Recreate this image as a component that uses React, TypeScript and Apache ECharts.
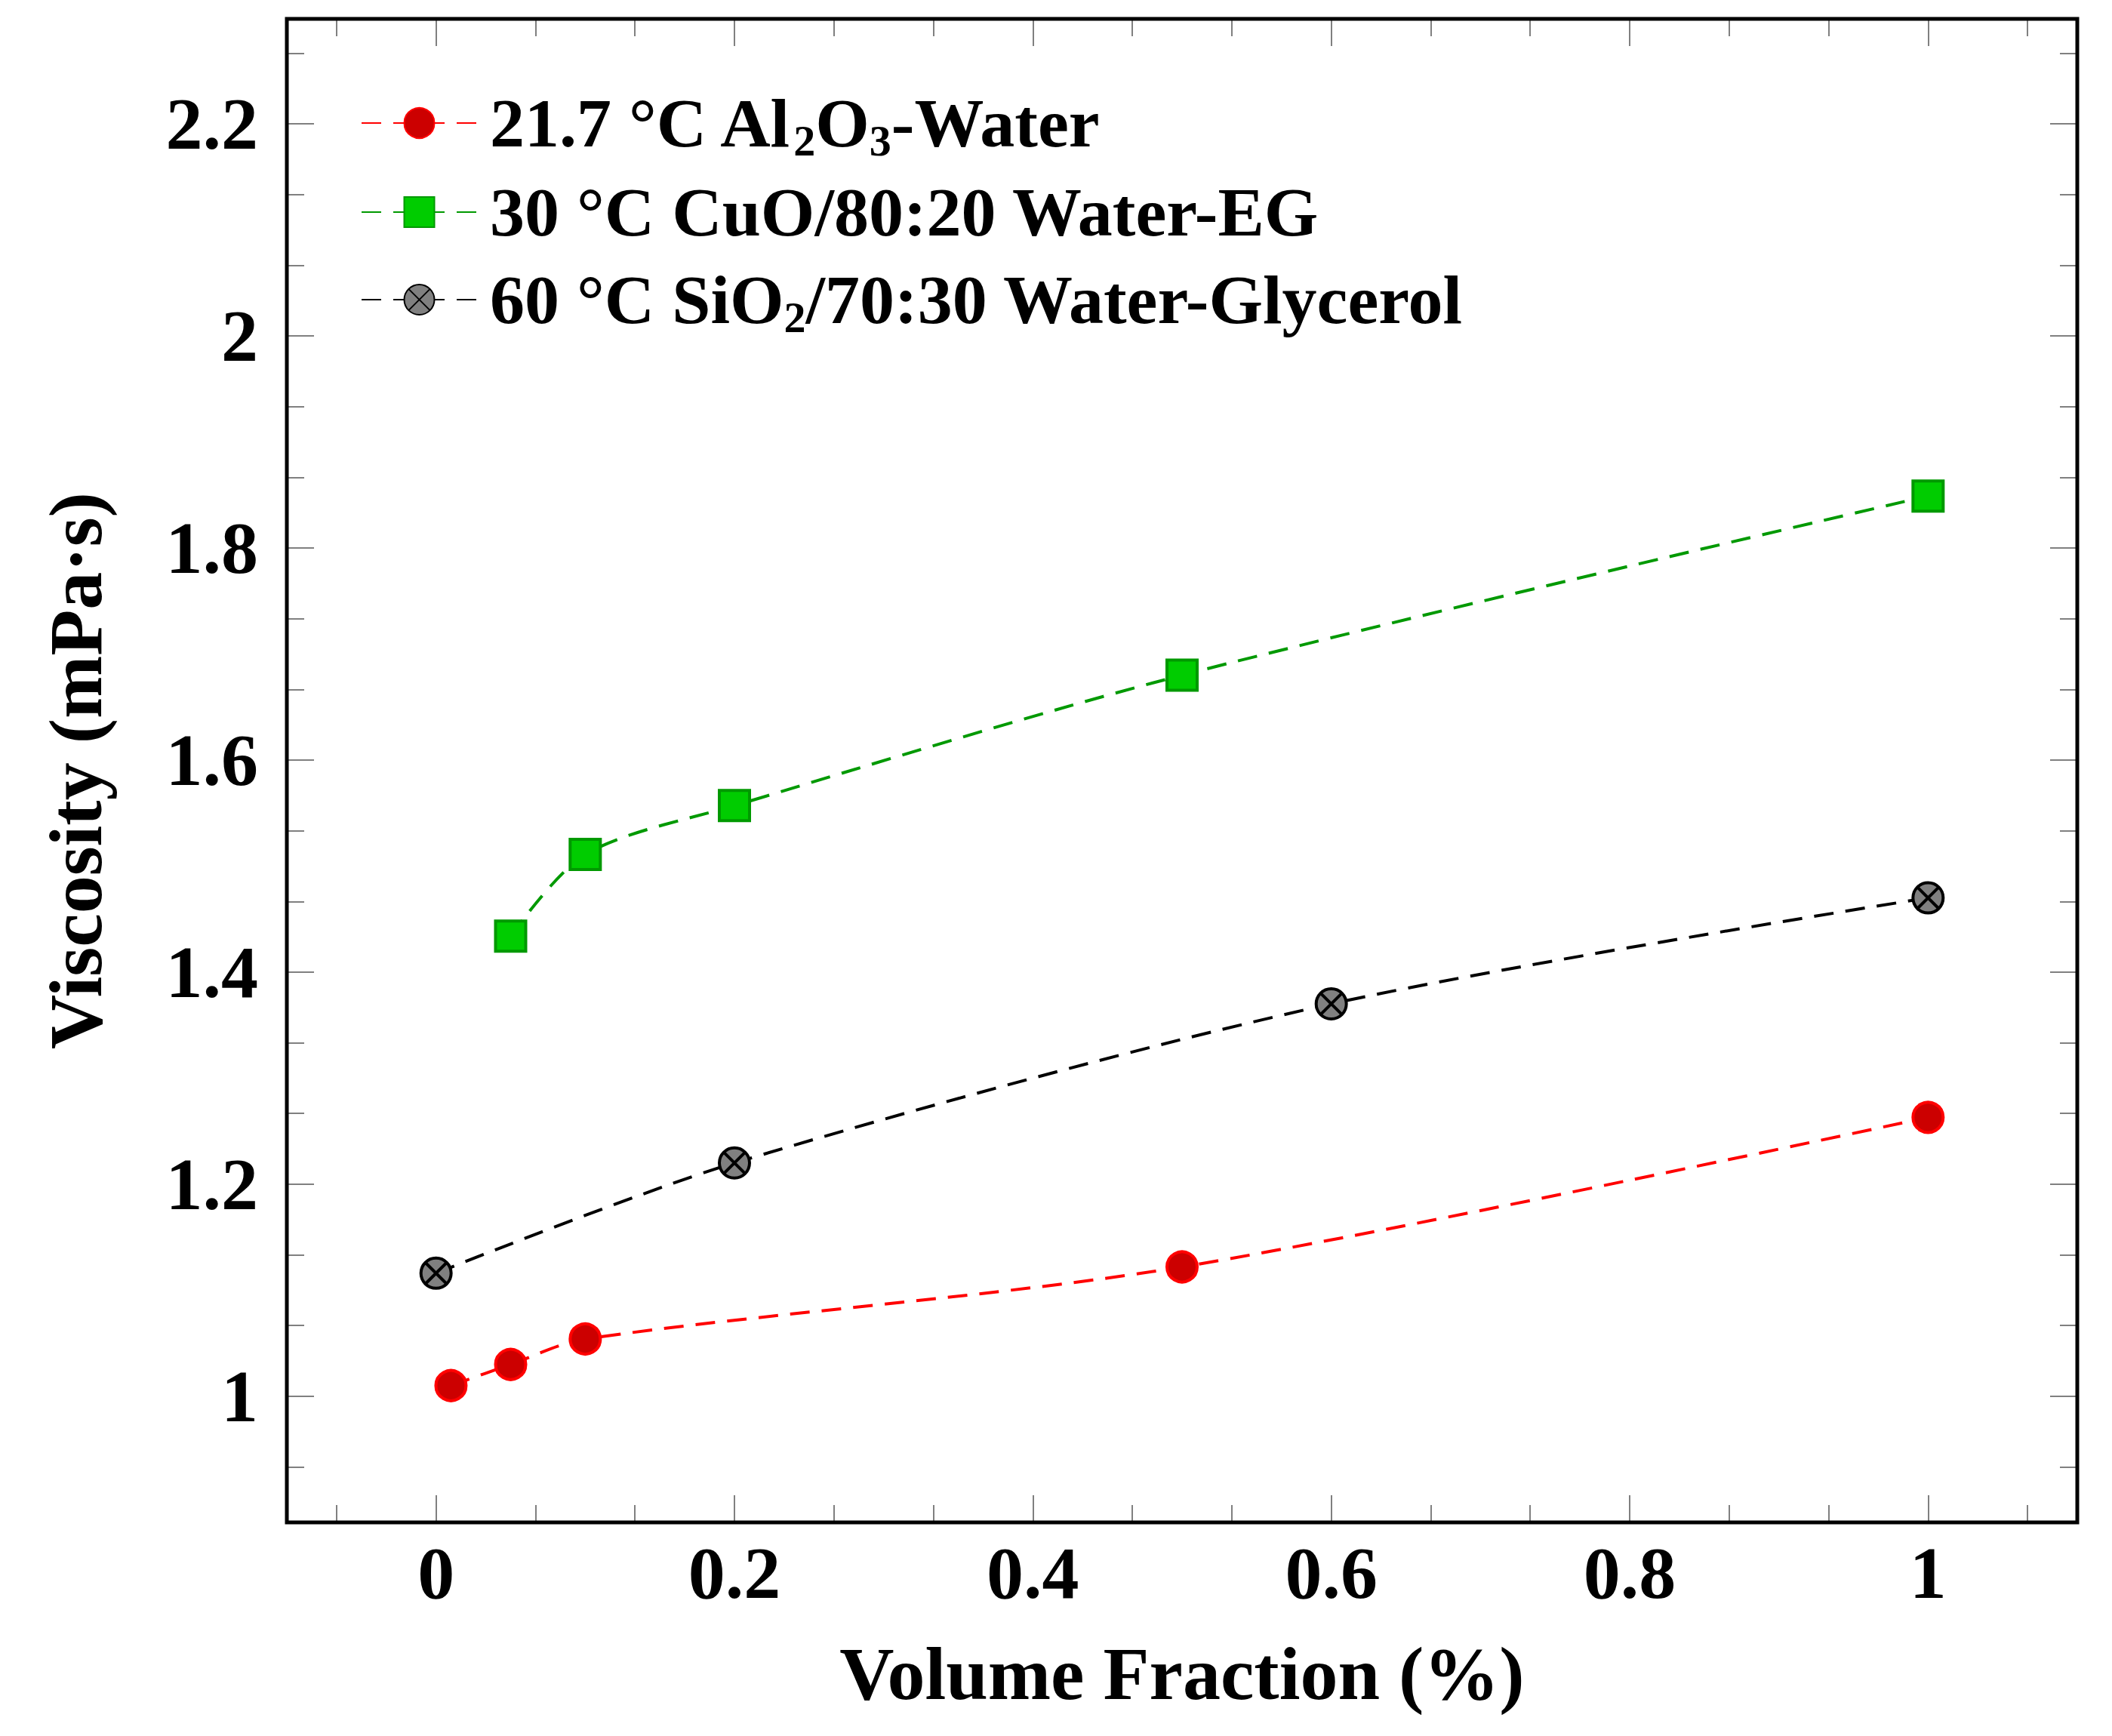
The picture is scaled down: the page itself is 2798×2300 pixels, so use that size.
import { useEffect, useRef } from "react";
import * as echarts from "echarts";

// volume fraction (%) and viscosity (mPa·s) per fluid
const seriesNames = [
  "21.7 °C Al2O3-Water",
  "30 °C CuO/80:20 Water-EG",
  "60 °C SiO2/70:30 Water-Glycerol",
];
const legendRich = [
  "21.7 °C Al{sub|2}O{sub|3}-Water",
  "30 °C CuO/80:20 Water-EG",
  "60 °C SiO{sub|2}/70:30 Water-Glycerol",
];

const fracAl2O3 = [0.01, 0.05, 0.1, 0.5, 1.0];
const viscAl2O3 = [1.01, 1.03, 1.054, 1.122, 1.263];

const fracCuO = [0.05, 0.1, 0.2, 0.5, 1.0];
const viscCuO = [1.434, 1.511, 1.557, 1.68, 1.849];

const fracSiO2 = [0, 0.2, 0.6, 1.0];
const viscSiO2 = [1.116, 1.22, 1.37, 1.47];

const xRange = [-0.1, 1.1];
const yRange = [0.881, 2.299];

const FONT = "'Liberation Serif', 'Times New Roman', serif";
const otimes =
  "path://M0,10A10,10,0,1,1,20,10A10,10,0,1,1,0,10ZM2.93,2.93L17.07,17.07M17.07,2.93L2.93,17.07";

const pairs = (xs: number[], ys: number[]) => xs.map((x, i) => [x, ys[i]]);

const GRID = { left: 380, top: 25, right: 46, bottom: 283 };
const W = 2798;
const H = 2300;

export default function App() {
  const ref = useRef<HTMLDivElement>(null);

  useEffect(() => {
    document.body.style.margin = "0";
    if (!ref.current) return;
    const chart = echarts.init(ref.current, undefined, { renderer: "svg" });

    const tick = { show: true, inside: true, length: 36, lineStyle: { color: "#808080", width: 2 } };
    const minor = { show: true, splitNumber: 3, length: 23, lineStyle: { color: "#808080", width: 2 } };
    const noLine = { show: false, onZero: false };
    const label = {
      fontFamily: FONT,
      fontWeight: "bold" as const,
      fontSize: 98,
      color: "#000",
      showMinLabel: false,
      showMaxLabel: false,
    };
    const nameStyle = { fontFamily: FONT, fontWeight: "bold" as const, fontSize: 100, color: "#000" };
    const dash = [26, 16];

    chart.setOption({
      animation: false,
      backgroundColor: "#fff",
      grid: { ...GRID, show: false },
      legend: {
        orient: "vertical",
        left: 478,
        top: 113,
        padding: 0,
        itemWidth: 153,
        itemHeight: 50,
        itemGap: 16,
        data: seriesNames,
        formatter: (n: string) => legendRich[seriesNames.indexOf(n)],
        textStyle: {
          fontFamily: FONT,
          fontWeight: "bold",
          fontSize: 92,
          color: "#000",
          lineHeight: 100,
          padding: [0, 0, 0, 12],
          rich: {
            sub: {
              fontFamily: FONT,
              fontWeight: "bold",
              fontSize: 58,
              color: "#000",
              padding: [46, 0, 0, 0],
            },
          },
        },
      },
      xAxis: [
        {
          type: "value",
          min: xRange[0],
          max: xRange[1],
          splitNumber: 5,
          position: "bottom",
          name: "Volume Fraction (%)",
          nameLocation: "middle",
          nameGap: 150,
          nameTextStyle: nameStyle,
          axisLine: noLine,
          axisTick: tick,
          minorTick: minor,
          axisLabel: { ...label, margin: 18 },
          splitLine: { show: false },
        },
        {
          type: "value",
          min: xRange[0],
          max: xRange[1],
          splitNumber: 5,
          position: "top",
          axisLine: noLine,
          axisTick: tick,
          minorTick: minor,
          axisLabel: { show: false },
          splitLine: { show: false },
        },
      ],
      yAxis: [
        {
          type: "value",
          min: yRange[0],
          max: yRange[1],
          splitNumber: 7,
          position: "left",
          name: "Viscosity (mPa·s)",
          nameLocation: "middle",
          nameRotate: 90,
          nameGap: 230,
          nameTextStyle: nameStyle,
          axisLine: noLine,
          axisTick: tick,
          minorTick: minor,
          axisLabel: { ...label, margin: 38 },
          splitLine: { show: false },
        },
        {
          type: "value",
          min: yRange[0],
          max: yRange[1],
          splitNumber: 7,
          position: "right",
          axisLine: noLine,
          axisTick: tick,
          minorTick: minor,
          axisLabel: { show: false },
          splitLine: { show: false },
        },
      ],
      graphic: [
        {
          type: "rect",
          z: 100,
          silent: true,
          shape: {
            x: GRID.left,
            y: GRID.top,
            width: W - GRID.left - GRID.right,
            height: H - GRID.top - GRID.bottom,
          },
          style: { fill: "none", stroke: "#000", lineWidth: 5 },
        },
      ],
      series: [
        {
          name: seriesNames[0],
          type: "line",
          smooth: 0.3,
          data: pairs(fracAl2O3, viscAl2O3),
          symbol: "circle",
          symbolSize: 40,
          itemStyle: { color: "#cc0000", borderColor: "#ff0000", borderWidth: 4 },
          lineStyle: { color: "#ff0000", width: 4, type: dash },
        },
        {
          name: seriesNames[1],
          type: "line",
          smooth: 0.3,
          data: pairs(fracCuO, viscCuO),
          symbol: "rect",
          symbolSize: 40,
          itemStyle: { color: "#00cc00", borderColor: "#009900", borderWidth: 4 },
          lineStyle: { color: "#009900", width: 4, type: dash },
        },
        {
          name: seriesNames[2],
          type: "line",
          smooth: 0.3,
          data: pairs(fracSiO2, viscSiO2),
          symbol: otimes,
          symbolSize: 40,
          itemStyle: { color: "#808080", borderColor: "#000", borderWidth: 4 },
          lineStyle: { color: "#000", width: 4, type: dash },
        },
      ],
    });

    return () => chart.dispose();
  }, []);

  return <div ref={ref} style={{ width: W, height: H }} />;
}
